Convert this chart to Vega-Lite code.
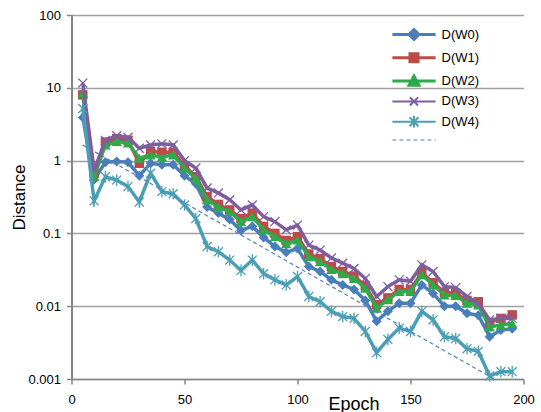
{
  "$schema": "https://vega.github.io/schema/vega-lite/v6.json",
  "width": 452,
  "height": 364,
  "autosize": "none",
  "padding": {"left": 71.5, "top": 15, "right": 17.5, "bottom": 33},
  "background": "white",
  "config": {"view": {"stroke": null}},
  "datasets": {
    "d": [
      {"epoch": 5, "W0": 3.9, "W1": 8.0, "W2": 8.5, "W3": 11.6, "W4": 5.2},
      {"epoch": 10, "W0": 0.55, "W1": 0.67, "W2": 0.6, "W3": 0.74, "W4": 0.28},
      {"epoch": 15, "W0": 0.95, "W1": 1.8, "W2": 1.64, "W3": 1.9, "W4": 0.6},
      {"epoch": 20, "W0": 0.97, "W1": 2.0, "W2": 1.83, "W3": 2.2, "W4": 0.54},
      {"epoch": 25, "W0": 0.95, "W1": 1.9, "W2": 1.75, "W3": 2.1, "W4": 0.44},
      {"epoch": 30, "W0": 0.62, "W1": 0.92, "W2": 1.08, "W3": 1.48, "W4": 0.27},
      {"epoch": 35, "W0": 0.92, "W1": 1.33, "W2": 1.2, "W3": 1.64, "W4": 0.67},
      {"epoch": 40, "W0": 0.88, "W1": 1.3, "W2": 1.11, "W3": 1.7, "W4": 0.375},
      {"epoch": 45, "W0": 0.88, "W1": 1.3, "W2": 1.2, "W3": 1.64, "W4": 0.35},
      {"epoch": 50, "W0": 0.62, "W1": 0.85, "W2": 0.79, "W3": 1.0, "W4": 0.246},
      {"epoch": 55, "W0": 0.48, "W1": 0.6, "W2": 0.57, "W3": 0.79, "W4": 0.16},
      {"epoch": 60, "W0": 0.23, "W1": 0.32, "W2": 0.29, "W3": 0.42, "W4": 0.066},
      {"epoch": 65, "W0": 0.19, "W1": 0.25, "W2": 0.23, "W3": 0.36, "W4": 0.056},
      {"epoch": 70, "W0": 0.155, "W1": 0.21, "W2": 0.2, "W3": 0.29, "W4": 0.043},
      {"epoch": 75, "W0": 0.11, "W1": 0.16, "W2": 0.145, "W3": 0.21, "W4": 0.031},
      {"epoch": 80, "W0": 0.125, "W1": 0.19, "W2": 0.17, "W3": 0.246, "W4": 0.043},
      {"epoch": 85, "W0": 0.088, "W1": 0.125, "W2": 0.112, "W3": 0.17, "W4": 0.028},
      {"epoch": 90, "W0": 0.066, "W1": 0.1, "W2": 0.09, "W3": 0.145, "W4": 0.023},
      {"epoch": 95, "W0": 0.055, "W1": 0.08, "W2": 0.072, "W3": 0.112, "W4": 0.0196},
      {"epoch": 100, "W0": 0.062, "W1": 0.09, "W2": 0.081, "W3": 0.13, "W4": 0.0256},
      {"epoch": 105, "W0": 0.035, "W1": 0.052, "W2": 0.048, "W3": 0.069, "W4": 0.0136},
      {"epoch": 110, "W0": 0.03, "W1": 0.045, "W2": 0.041, "W3": 0.059, "W4": 0.0115},
      {"epoch": 115, "W0": 0.023, "W1": 0.035, "W2": 0.032, "W3": 0.046, "W4": 0.0085},
      {"epoch": 120, "W0": 0.0196, "W1": 0.03, "W2": 0.028, "W3": 0.039, "W4": 0.0072},
      {"epoch": 125, "W0": 0.017, "W1": 0.026, "W2": 0.024, "W3": 0.033, "W4": 0.0068},
      {"epoch": 130, "W0": 0.012, "W1": 0.019, "W2": 0.0177, "W3": 0.024, "W4": 0.0045},
      {"epoch": 135, "W0": 0.0062, "W1": 0.0105, "W2": 0.0094, "W3": 0.0136, "W4": 0.0023},
      {"epoch": 140, "W0": 0.0085, "W1": 0.013, "W2": 0.0123, "W3": 0.0186, "W4": 0.0035},
      {"epoch": 145, "W0": 0.011, "W1": 0.017, "W2": 0.0159, "W3": 0.023, "W4": 0.005},
      {"epoch": 150, "W0": 0.011, "W1": 0.017, "W2": 0.016, "W3": 0.022, "W4": 0.0045},
      {"epoch": 155, "W0": 0.0196, "W1": 0.029, "W2": 0.027, "W3": 0.037, "W4": 0.0085},
      {"epoch": 160, "W0": 0.015, "W1": 0.021, "W2": 0.0196, "W3": 0.03, "W4": 0.0065},
      {"epoch": 165, "W0": 0.01, "W1": 0.0155, "W2": 0.0143, "W3": 0.0186, "W4": 0.0038},
      {"epoch": 170, "W0": 0.01, "W1": 0.015, "W2": 0.014, "W3": 0.018, "W4": 0.0036},
      {"epoch": 175, "W0": 0.008, "W1": 0.012, "W2": 0.011, "W3": 0.0136, "W4": 0.0026},
      {"epoch": 180, "W0": 0.0075, "W1": 0.0115, "W2": 0.0104, "W3": 0.011, "W4": 0.0024},
      {"epoch": 185, "W0": 0.0038, "W1": 0.0059, "W2": 0.0052, "W3": 0.0065, "W4": 0.0011},
      {"epoch": 190, "W0": 0.0047, "W1": 0.0068, "W2": 0.0055, "W3": 0.0068, "W4": 0.00126},
      {"epoch": 195, "W0": 0.0049, "W1": 0.0076, "W2": 0.0058, "W3": 0.0068, "W4": 0.00126}
    ],
    "t": [
      {"epoch": 5, "series": "T", "value": 1.64},
      {"epoch": 187, "series": "T", "value": 0.001}
    ]
  },
  "data": {"name": "d"},
  "encoding": {
    "x": {
      "field": "epoch", "type": "quantitative",
      "scale": {"domain": [0, 200], "nice": false, "zero": false},
      "axis": {
        "values": [0, 50, 100, 150, 200], "grid": false,
        "domainColor": "#868686", "domainWidth": 1.5,
        "tickColor": "#868686", "tickWidth": 1.5, "tickSize": 5,
        "labelFont": "Liberation Sans", "labelFontSize": 13, "labelColor": "#000000",
        "labelPadding": 9, "labelFlush": false,
        "title": "Epoch", "titleFont": "Liberation Sans", "titleFontSize": 18,
        "titleFontWeight": "normal", "titleColor": "#000000",
        "titleX": 282, "titleY": 16, "titleBaseline": "top", "titleAlign": "center"
      }
    },
    "y": {
      "field": "value", "type": "quantitative",
      "scale": {"type": "log", "domain": [0.001, 100], "nice": false},
      "axis": {
        "values": [0.001, 0.01, 0.1, 1, 10, 100], "format": "~g",
        "grid": true, "gridColor": "#A0A0A0", "gridWidth": 1.5,
        "domainColor": "#868686", "domainWidth": 2,
        "tickColor": "#868686", "tickWidth": 1.5, "tickSize": 5,
        "labelFont": "Liberation Sans", "labelFontSize": 13, "labelColor": "#000000",
        "labelPadding": 6,
        "title": "Distance", "titleFont": "Liberation Sans", "titleFontSize": 17,
        "titleFontWeight": "normal", "titleColor": "#000000", "titlePadding": -1
      }
    },
    "color": {
      "field": "series", "type": "nominal",
      "scale": {
        "domain": ["W0", "W1", "W2", "W3", "W4", "T"],
        "range": ["#4A7EBB", "#BE4B48", "#2EAA4A", "#7D5FA0", "#4A9FB5", "#4F81BD"]
      },
      "legend": {
        "orient": "none", "legendX": 336, "legendY": 13, "title": null, "padding": 0,
        "labelExpr": "datum.label === 'T' ? '' : 'D(' + datum.label + ')'",
        "labelFont": "Liberation Sans", "labelFontSize": 13, "labelColor": "#000000",
        "symbolSize": 81, "labelOffset": 21, "rowPadding": 1.3,
        "encode": {
          "symbols": {
            "update": {
              "shape": {"signal": "datum.value === 'W0' ? 'M-4.8,0H4.8M0,-1.1L1.1,0L0,1.1L-1.1,0Z' : datum.value === 'W1' ? 'M-4.8,0H4.8M-0.9,-0.9H0.9V0.9H-0.9Z' : datum.value === 'W2' ? 'M-4.8,0H4.8M0,-1.1L1.1,0.9H-1.1Z' : datum.value === 'W3' ? 'M-4.8,0H4.8M-0.9,-0.9L0.9,0.9M-0.9,0.9L0.9,-0.9' : datum.value === 'W4' ? 'M-4.8,0H4.8M-1,-1L1,1M-1,1L1,-1M0,-1.3L0,1.3' : 'M-4.8,0H4.8'"},
              "fill": {"signal": "scale('color', datum.value)"},
              "stroke": {"signal": "scale('color', datum.value)"},
              "strokeWidth": {"signal": "datum.value === 'T' ? 1.2 : datum.value === 'W3' || datum.value === 'W4' ? 2 : 3"},
              "strokeDash": {"signal": "datum.value === 'T' ? [4, 3] : [1, 0]"},
              "opacity": {"value": 1},
              "size": {"value": 81}
            }
          }
        }
      }
    }
  },
  "layer": [
    {
      "transform": [{"fold": ["W0"], "as": ["series", "value"]}],
      "layer": [
        {"mark": {"type": "line", "strokeWidth": 3.5}},
        {"mark": {"type": "point", "shape": "diamond", "filled": true, "size": 100, "opacity": 1}}
      ]
    },
    {
      "transform": [{"fold": ["W1"], "as": ["series", "value"]}],
      "layer": [
        {"mark": {"type": "line", "strokeWidth": 3.5}},
        {"mark": {"type": "point", "shape": "square", "filled": true, "size": 90, "opacity": 1}}
      ]
    },
    {
      "transform": [{"fold": ["W2"], "as": ["series", "value"]}],
      "layer": [
        {"mark": {"type": "line", "strokeWidth": 3.5}},
        {"mark": {"type": "point", "shape": "triangle-up", "filled": true, "size": 110, "opacity": 1}}
      ]
    },
    {
      "transform": [{"fold": ["W3"], "as": ["series", "value"]}],
      "layer": [
        {"mark": {"type": "line", "strokeWidth": 3.5}},
        {"mark": {"type": "point", "shape": "M-1,-1L1,1M-1,1L1,-1", "filled": false, "size": 80, "strokeWidth": 1.3, "opacity": 1}}
      ]
    },
    {
      "transform": [{"fold": ["W4"], "as": ["series", "value"]}],
      "layer": [
        {"mark": {"type": "line", "strokeWidth": 3.5}},
        {"mark": {"type": "point", "shape": "M-1,-1L1,1M-1,1L1,-1M0,-1.3L0,1.3", "filled": false, "size": 80, "strokeWidth": 1.3, "opacity": 1}}
      ]
    },
    {
      "data": {"name": "t"},
      "mark": {"type": "line", "strokeWidth": 1.2, "strokeDash": [4, 3]}
    }
  ]
}
